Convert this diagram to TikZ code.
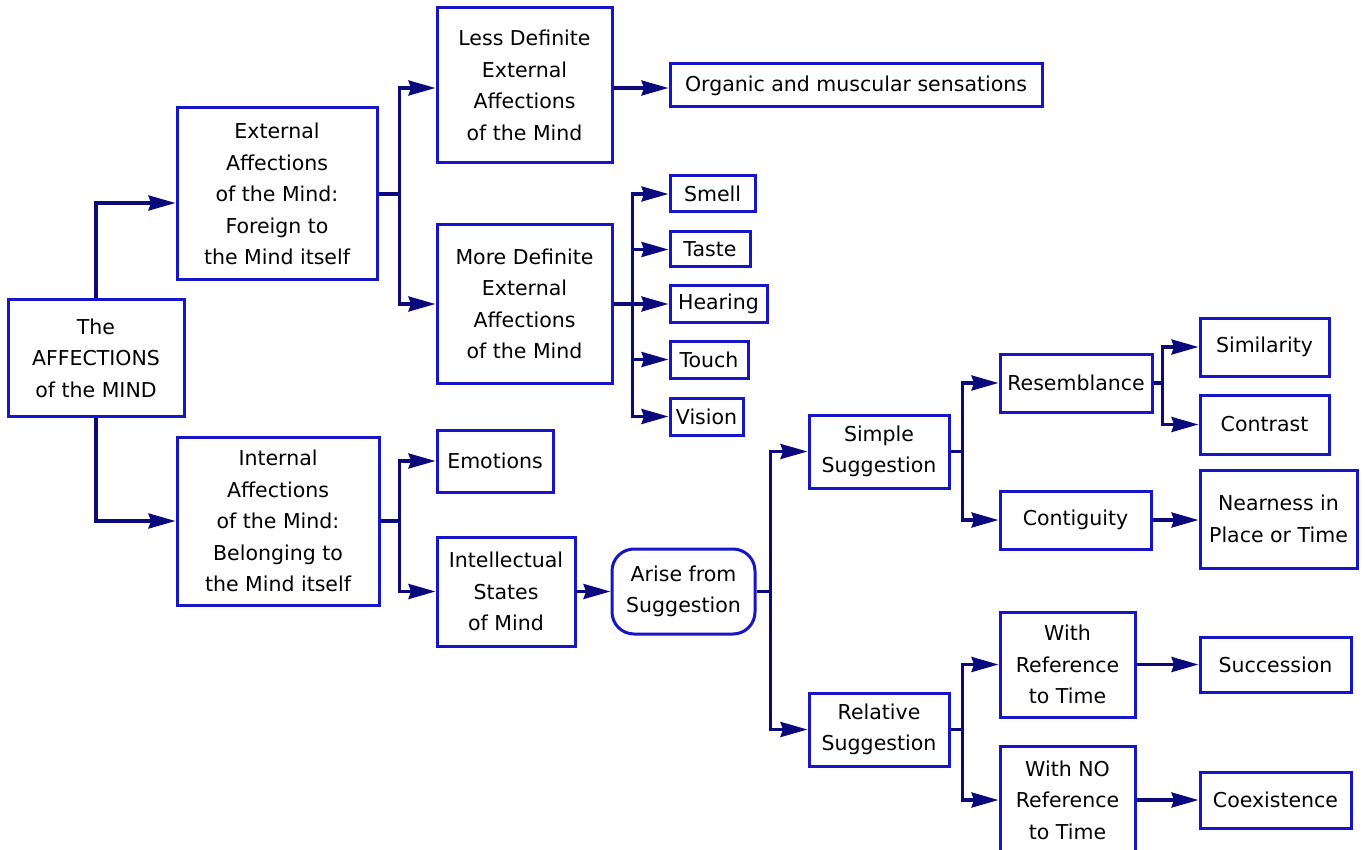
\documentclass[tikz,border=0pt]{standalone}
\usepackage{fontspec}
\setmainfont{DejaVu Sans}
\usetikzlibrary{arrows.meta,calc}
\definecolor{boxblue}{RGB}{22,22,200}
\definecolor{linknavy}{RGB}{10,10,125}
\begin{document}
\begin{tikzpicture}[x=1pt,y=-1pt,
  box/.style={draw=boxblue, line width=3pt, fill=white, align=center,
    inner sep=0pt, font=\fontsize{20.5}{31.5}\selectfont},
  roundbox/.style={box, rounded corners=22pt},
  wire/.style={draw=linknavy, line width=3.2pt},
  link/.style={wire, -{Stealth[length=27pt,width=15pt,inset=2.5pt]}},
]
\useasboundingbox (0,0) rectangle (1365,850);

% boxes
\node[box, minimum width=176pt, minimum height=116pt] (root) at (96,358) {The\\AFFECTIONS\\of the MIND};
\node[box, minimum width=200pt, minimum height=172pt] (ext) at (277,194) {External\\Affections\\of the Mind:\\Foreign to\\the Mind itself};
\node[box, minimum width=202pt, minimum height=168pt] (int) at (278,521) {Internal\\Affections\\of the Mind:\\Belonging to\\the Mind itself};
\node[box, minimum width=175pt, minimum height=155pt] (less) at (524.5,85.5) {Less Definite\\External\\Affections\\of the Mind};
\node[box, minimum width=175pt, minimum height=158pt] (more) at (524.5,304) {More Definite\\External\\Affections\\of the Mind};
\node[box, minimum width=372pt, minimum height=43pt] (organic) at (856,85.5) {Organic and muscular sensations};
\node[box, minimum width=85pt, minimum height=36pt] (smell) at (712.5,194) {Smell};
\node[box, minimum width=80pt, minimum height=35pt] (taste) at (710,249.5) {Taste};
\node[box, minimum width=97pt, minimum height=36pt] (hearing) at (718.5,304) {Hearing};
\node[box, minimum width=78pt, minimum height=37pt] (touch) at (709,359.5) {Touch};
\node[box, minimum width=73pt, minimum height=37pt] (vision) at (706.5,416.5) {Vision};
\node[box, minimum width=116pt, minimum height=62pt] (emotions) at (495,461) {Emotions};
\node[box, minimum width=138pt, minimum height=109pt] (intel) at (506,591.5) {Intellectual\\States\\of Mind};
\node[roundbox, minimum width=143pt, minimum height=85pt] (arise) at (683.5,591.5) {Arise from\\Suggestion};
\node[box, minimum width=140pt, minimum height=73pt] (simple) at (879,451.5) {Simple\\Suggestion};
\node[box, minimum width=140pt, minimum height=73pt] (relative) at (879,729.5) {Relative\\Suggestion};
\node[box, minimum width=152pt, minimum height=58pt] (resemb) at (1076,383) {Resemblance};
\node[box, minimum width=151pt, minimum height=58pt] (contig) at (1075.5,520) {Contiguity};
\node[box, minimum width=129pt, minimum height=58pt] (similar) at (1264.5,347) {Similarity};
\node[box, minimum width=129pt, minimum height=59pt] (contrast) at (1264.5,424.5) {Contrast};
\node[box, minimum width=157pt, minimum height=98pt] (nearness) at (1278.5,519) {Nearness in\\Place or Time};
\node[box, minimum width=135pt, minimum height=105pt] (withref) at (1067.5,664.5) {With\\Reference\\to Time};
\node[box, minimum width=135pt, minimum height=108pt] (withno) at (1067.5,800) {With NO\\Reference\\to Time};
\node[box, minimum width=151pt, minimum height=55pt] (succ) at (1275.5,664.5) {Succession};
\node[box, minimum width=151pt, minimum height=56pt] (coex) at (1275.5,800) {Coexistence};

% root branches
\draw[link] (root.north) |- ($(ext.west)+(0,9)$);
\draw[link] (root.south) |- (int.west);

% external affections
\draw[wire] (ext.east) -- ++(21,0) coordinate (jext);
\draw[link] (jext) |- ($(less.west)+(0,2.5)$);
\draw[link] (jext) |- (more.west);
\draw[link] ($(less.east)+(0,2.5)$) -- ($(organic.west)+(0,2.5)$);

% senses
\draw[wire] (more.east) -- ++(19,0) coordinate (jsense);
\foreach \s in {smell,taste,hearing,touch,vision}
  \draw[link] (jsense) |- (\s.west);

% internal affections
\draw[wire] (int.east) -- ++(19,0) coordinate (jint);
\draw[link] (jint) |- (emotions.west);
\draw[link] (jint) |- (intel.west);
\draw[link] (intel.east) -- (arise.west);

% suggestion
\draw[wire] (arise.east) -- ++(14,0) coordinate (jsug);
\draw[link] (jsug) |- (simple.west);
\draw[link] (jsug) |- (relative.west);

\draw[wire] (simple.east) -- ++(12,0) coordinate (jsim);
\draw[link] (jsim) |- (resemb.west);
\draw[link] (jsim) |- (contig.west);

\draw[wire] (resemb.east) -- ++(9,0) coordinate (jres);
\draw[link] (jres) |- (similar.west);
\draw[link] (jres) |- (contrast.west);
\draw[link] (contig.east) -- (contig.east -| nearness.west);

\draw[wire] (relative.east) -- ++(12,0) coordinate (jrel);
\draw[link] (jrel) |- (withref.west);
\draw[link] (jrel) |- (withno.west);
\draw[link] (withref.east) -- (succ.west);
\draw[link] (withno.east) -- (coex.west);
\end{tikzpicture}
\end{document}
